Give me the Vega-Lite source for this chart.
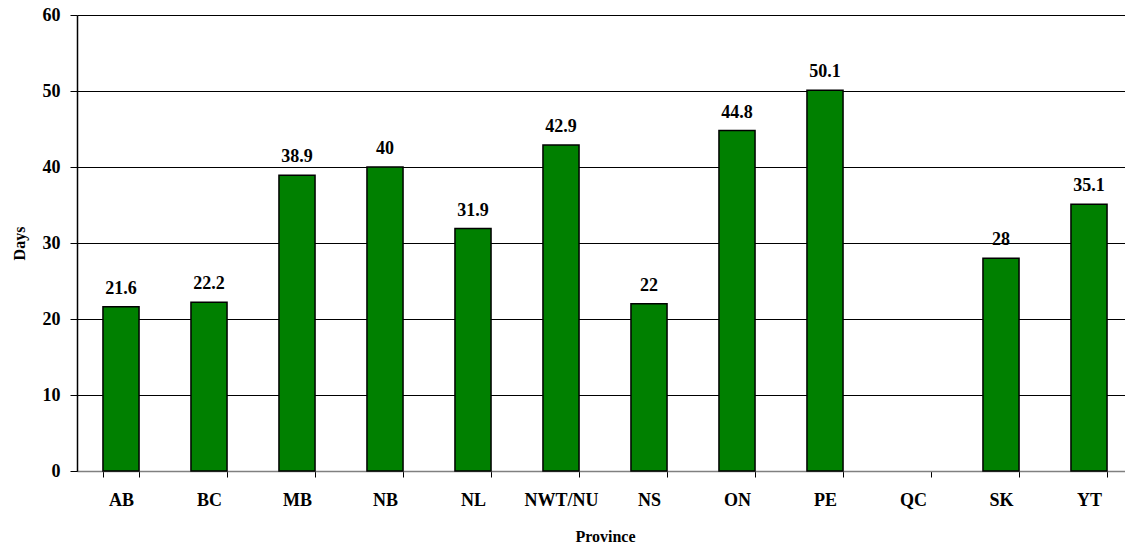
{
  "$schema": "https://vega.github.io/schema/vega-lite/v6.json",
  "autosize": "none",
  "width": 1056,
  "height": 456,
  "padding": {"left": 77, "top": 15, "right": 0, "bottom": 73},
  "background": "white",
  "config": {
    "view": {"stroke": null},
    "font": "Liberation Serif",
    "axis": {
      "labelFont": "Liberation Serif",
      "labelFontWeight": "bold",
      "labelFontSize": 18,
      "labelColor": "black",
      "titleFont": "Liberation Serif",
      "titleFontWeight": "bold",
      "titleFontSize": 16,
      "titleColor": "black",
      "tickColor": "black",
      "domainColor": "black"
    }
  },
  "data": {
    "values": [
      {"Province": "AB", "Days": 21.6},
      {"Province": "BC", "Days": 22.2},
      {"Province": "MB", "Days": 38.9},
      {"Province": "NB", "Days": 40},
      {"Province": "NL", "Days": 31.9},
      {"Province": "NWT/NU", "Days": 42.9},
      {"Province": "NS", "Days": 22},
      {"Province": "ON", "Days": 44.8},
      {"Province": "PE", "Days": 50.1},
      {"Province": "QC", "Days": null},
      {"Province": "SK", "Days": 28},
      {"Province": "YT", "Days": 35.1}
    ]
  },
  "encoding": {
    "x": {
      "field": "Province",
      "type": "nominal",
      "sort": null,
      "scale": {
        "domain": ["AB", "BC", "MB", "NB", "NL", "NWT/NU", "NS", "ON", "PE", "QC", "SK", "YT"],
        "paddingInner": 0.59,
        "paddingOuter": 0.295
      },
      "axis": {
        "title": "Province",
        "labelAngle": 0,
        "tickBand": "extent",
        "tickSize": 6,
        "labelPadding": 14,
        "titlePadding": 19,
        "domainColor": "#808080",
        "domainWidth": 1.5
      }
    },
    "y": {
      "field": "Days",
      "type": "quantitative",
      "scale": {"domain": [0, 60], "nice": false},
      "axis": {
        "title": "Days",
        "values": [0, 10, 20, 30, 40, 50, 60],
        "tickSize": 7,
        "labelPadding": 10,
        "titlePadding": 15,
        "grid": true,
        "gridColor": "black",
        "gridWidth": 1,
        "domainWidth": 1.5
      }
    }
  },
  "layer": [
    {
      "mark": {"type": "bar", "fill": "#008000", "stroke": "black", "strokeWidth": 1.5}
    },
    {
      "mark": {
        "type": "text",
        "baseline": "alphabetic",
        "dy": -13,
        "fontSize": 18,
        "fontWeight": "bold",
        "font": "Liberation Serif",
        "color": "black"
      },
      "encoding": {"text": {"field": "Days", "type": "quantitative"}}
    }
  ]
}
